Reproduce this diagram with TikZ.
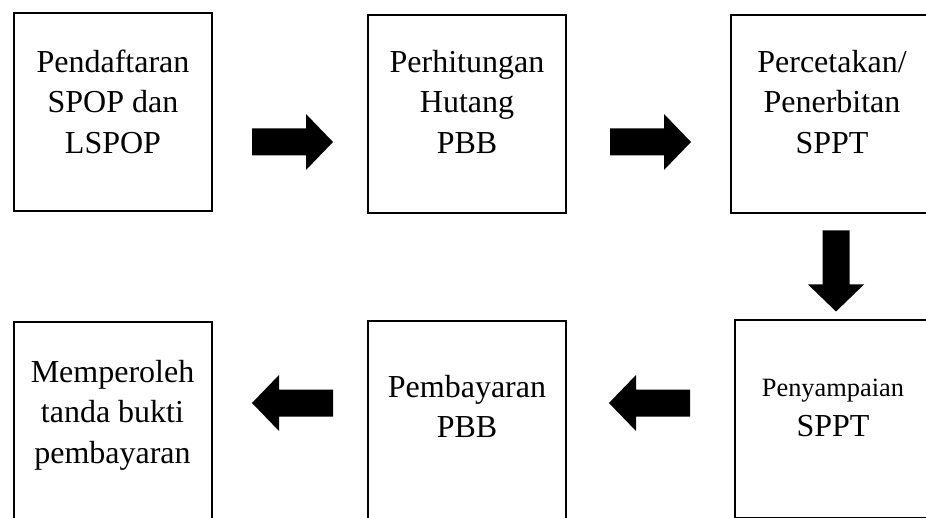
\documentclass[tikz,border=0pt]{standalone}
\usepackage{fontspec}
\setmainfont{Liberation Serif}
\begin{document}
\begin{tikzpicture}[x=1pt,y=-1pt,
  box/.style={draw, line width=1.8pt, minimum width=198pt, minimum height=198pt, inner sep=0pt},
  boxtext/.style={font=\fontsize{32}{40.5}\selectfont, align=center, inner sep=0pt, anchor=north},
  blockarrow/.pic={\fill (-40.5,-13.5) -- (13.5,-13.5) -- (13.5,-28) -- (40.5,0) -- (13.5,28) -- (13.5,13.5) -- (-40.5,13.5) -- cycle;}]
\useasboundingbox (0,0) rectangle (926,518);
\clip (0,0) rectangle (926,518);
% boxes
\node[box] (b1) at (113,112) {};
\node[box] (b2) at (467,114) {};
\node[box] (b3) at (830,114) {};
\node[box] (b4) at (113,421) {};
\node[box] (b5) at (467,420) {};
\node[box] (b6) at (834,419) {};
% texts
\node[boxtext] (t1) at (113,43.6) {\strut Pendaftaran\\\strut SPOP dan\\\strut LSPOP};
\node[boxtext] (t2) at (467,43.6) {\strut Perhitungan\\\strut Hutang\\\strut PBB};
\node[boxtext] (t3) at (832,43.6) {\strut Percetakan/\\\strut Penerbitan\\\strut SPPT};
\node[boxtext] (t4) at (112.5,353.6) {\strut Memperoleh\\\strut tanda bukti\\\strut pembayaran};
\node[boxtext] (t5) at (467,368.6) {\strut Pembayaran\\\strut PBB};
\node[boxtext] (t6) at (833,367.6) {\strut{\fontsize{26.4}{40.5}\selectfont Penyampaian}\\\strut SPPT};
% block arrows
\pic at (292.5,142) {blockarrow};
\pic at (650.5,142) {blockarrow};
\pic[rotate=-90] at (836,271) {blockarrow};
\pic[rotate=180] at (292.5,403) {blockarrow};
\pic[rotate=180] at (649.5,403) {blockarrow};
\end{tikzpicture}
\end{document}
